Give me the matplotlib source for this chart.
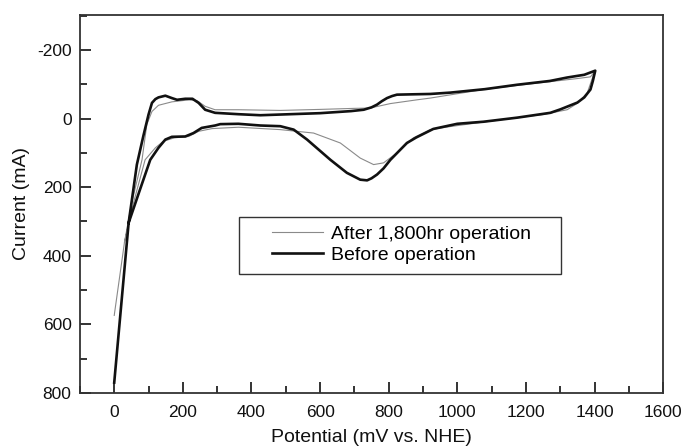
import matplotlib
matplotlib.use("Agg")
import matplotlib.pyplot as plt
from matplotlib.patches import Rectangle

plt.rcParams['font.family'] = ['Liberation Sans', 'DejaVu Sans']
plt.rcParams['axes.unicode_minus'] = False

# Before operation (thick line): anodic sweep up to 1400 mV, then back
before_x = [0, 42, 66, 85, 100, 110, 120, 129, 149, 168, 183, 207, 228, 246, 265, 294, 362, 426, 484,
            600, 690, 727, 750, 766, 780, 795, 810, 824, 870, 921, 980, 1080, 1175, 1270, 1320, 1370, 1402,
            1395, 1388, 1370, 1350, 1300, 1271, 1175, 1076, 1000, 930, 880, 853, 805, 785, 766, 750, 737, 717,
            678, 630, 562, 523, 484, 426, 362, 309, 294, 255, 231, 207, 168, 149, 129, 105, 72, 42]
before_y = [770, 304, 134, 50, -12, -46, -57, -62, -67, -60, -55, -58, -58, -46, -26, -17, -13, -10, -12,
            -16, -22, -26, -33, -41, -51, -60, -66, -70, -71, -72, -76, -86, -99, -110, -120, -128, -140,
            -110, -85, -62, -47, -27, -17, -3, 9, 15, 30, 55, 71, 120, 145, 163, 174, 180, 178,
            158, 120, 61, 32, 22, 20, 15, 16, 20, 27, 42, 52, 53, 61, 85, 120, 216, 304]

# After 1,800hr operation (thin line)
after_x = [0, 30, 50, 81, 95, 110, 129, 168, 219, 242, 265, 294, 362, 484, 600, 700, 746, 805,
           883, 921, 1076, 1175, 1271, 1350, 1388, 1400,
           1379, 1350, 1320, 1250, 1175, 1076, 980, 921, 872, 824, 785, 756, 717, 659, 581,
           484, 362, 285, 246, 217, 175, 143, 120, 90, 55, 30]
after_y = [574, 360, 250, 120, 17, -21, -39, -49, -55, -52, -36, -26, -26, -24, -27, -30, -31, -44,
           -55, -60, -85, -97, -108, -117, -122, -137,
           -76, -45, -26, -12, -3, 10, 23, 32, 56, 100, 129, 134, 115, 71, 42,
           32, 25, 29, 37, 52, 56, 66, 85, 120, 250, 360]

x_ticks = [0, 200, 400, 600, 800, 1000, 1200, 1400, 1600]
y_ticks = [-200, 0, 200, 400, 600, 800]

fig = plt.figure(figsize=(6.83, 4.48), dpi=100)
ax = fig.add_axes([0.117, 0.123, 0.854, 0.844])

ax.plot(after_x, after_y, color='#8a8a8a', lw=0.8, solid_joinstyle='round',
        label='After 1,800hr operation')
ax.plot(before_x, before_y, color='#111111', lw=1.9, solid_joinstyle='round',
        label='Before operation')

ax.set_xlim(-100, 1600)
ax.set_ylim(800, -303)
ax.set_xticks(x_ticks)
ax.set_yticks(y_ticks)
ax.set_xticks(range(-100, 1600, 100), minor=True)
ax.set_yticks(range(-300, 801, 100), minor=True)
ax.tick_params(which='both', direction='in', color='#111111', labelcolor='#111111', labelsize=12.5)
ax.tick_params(which='major', length=8, width=1.2)
ax.tick_params(which='minor', length=5, width=1.2)
ax.tick_params(axis='x', pad=9)
ax.tick_params(axis='y', pad=6)
for sp in ax.spines.values():
    sp.set_linewidth(1.3)
    sp.set_color('#333333')

ax.set_xlabel('Potential (mV vs. NHE)', fontsize=14, color='#111111', labelpad=6)
ax.set_ylabel('Current (mA)', fontsize=14, color='#111111', labelpad=5)

ax.add_patch(Rectangle((0.273, 0.315), 0.552, 0.151, transform=ax.transAxes,
                       fill=False, edgecolor='#333333', lw=1.0))
ax.legend(loc='center left', bbox_to_anchor=(0.313, 0.392), frameon=False, fontsize=14,
          borderpad=0, handlelength=2.6, handletextpad=0.4, labelspacing=0.15)

fig.savefig('out.png', dpi=100)
